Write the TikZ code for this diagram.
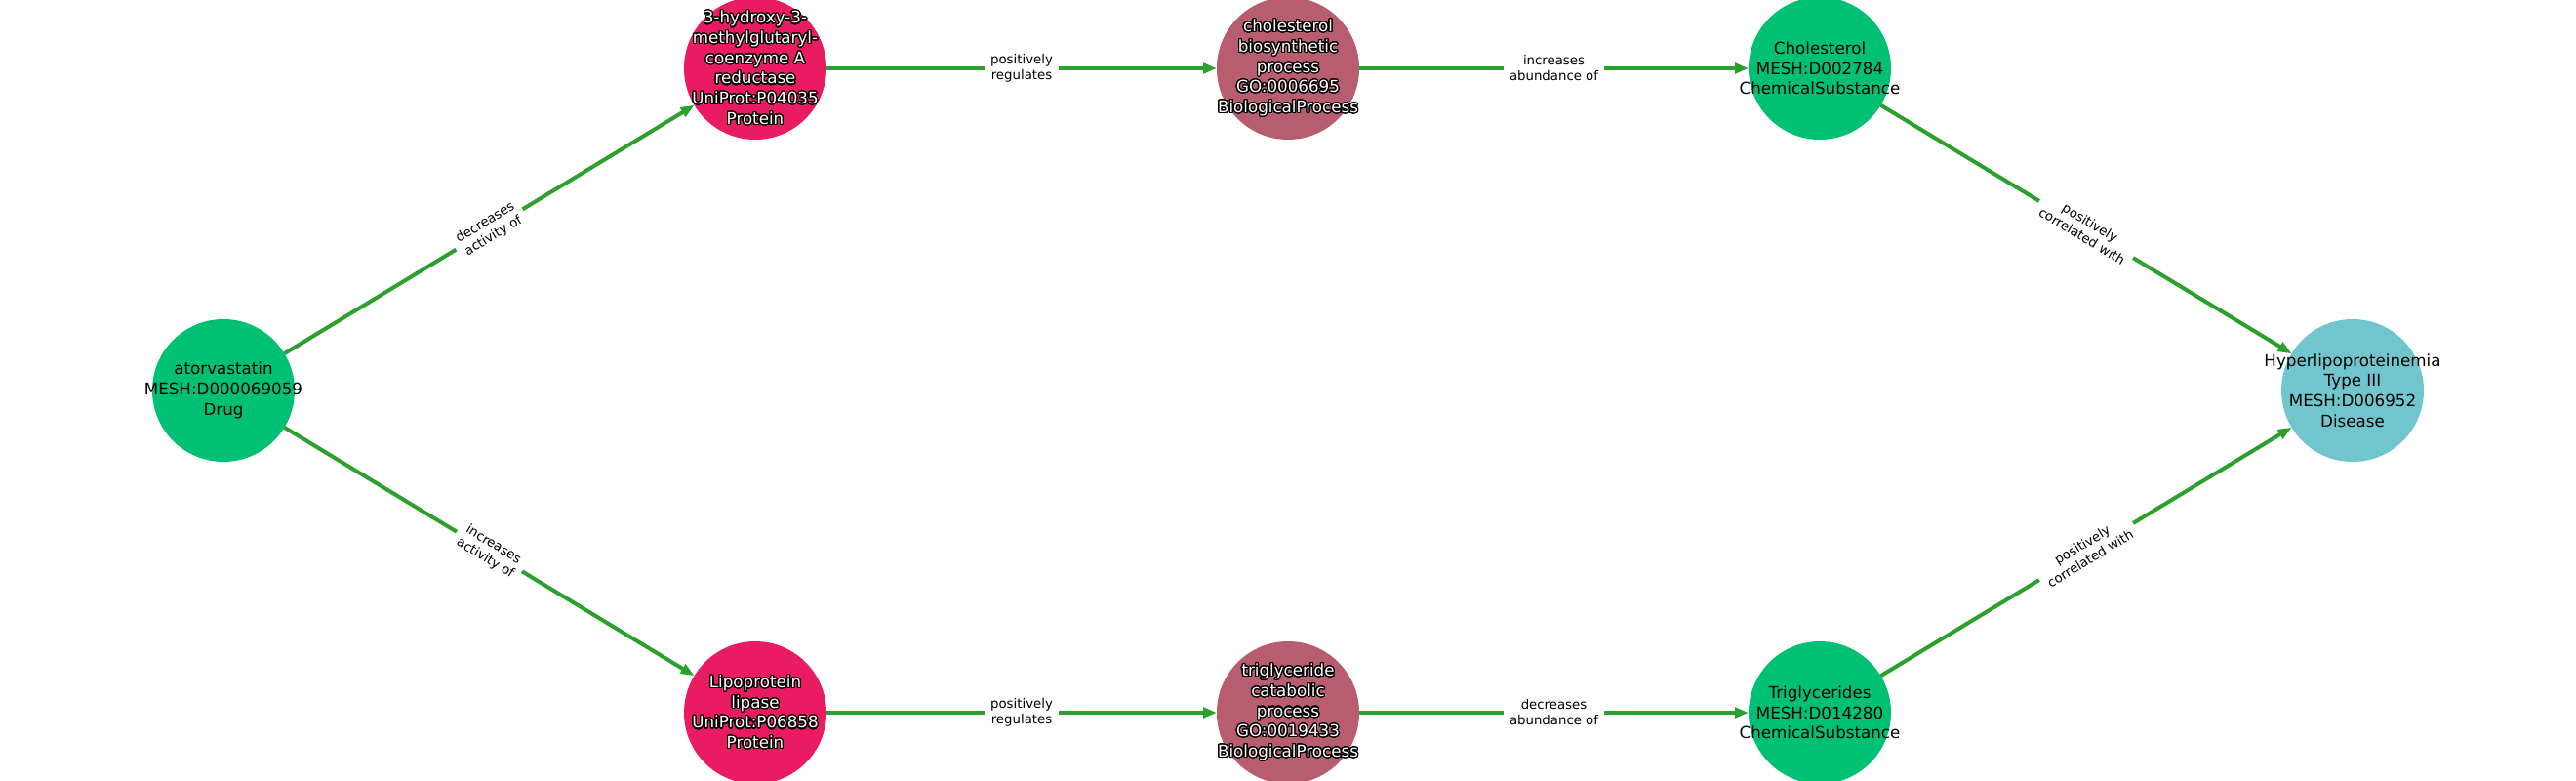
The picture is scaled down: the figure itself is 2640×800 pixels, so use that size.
\documentclass[tikz,border=0pt]{standalone}
\usepackage{fontspec}
\setmainfont{DejaVu Sans}
\usepackage{contour}
\contourlength{1.2bp}
\contournumber{32}
\usetikzlibrary{arrows.meta}
\definecolor{chem}{RGB}{0,193,115}
\definecolor{prot}{RGB}{233,27,99}
\definecolor{proc}{RGB}{184,92,112}
\definecolor{dis}{RGB}{112,198,204}
\definecolor{edgec}{RGB}{44,160,44}
\newcommand{\wl}[1]{\contour{black}{#1}}
\begin{document}
\begin{tikzpicture}[x=1bp,y=-1bp,
  dot/.style={circle, minimum size=146bp, inner sep=0pt, outer sep=0pt, draw=none},
  txt/.style={align=center, inner sep=0pt, font=\fontsize{16.7bp}{20.7bp}\selectfont},
  wtxt/.style={txt, text=white},
  edge/.style={draw=edgec, line width=4bp, -{Triangle[length=14bp,width=10.5bp]}},
  elab/.style={fill=white, align=center, inner xsep=6bp, inner ysep=3bp, text=black,
    font=\fontsize{13.3bp}{16bp}\selectfont}
]
\useasboundingbox (0,0) rectangle (2640,800);
\fill[white] (0,0) rectangle (2640,800);

\node[dot, fill=chem] (ator) at (229,400) {};
\node[dot, fill=prot] (hmg) at (774,70) {};
\node[dot, fill=proc] (cbp) at (1320,70) {};
\node[dot, fill=chem] (chol) at (1865,70) {};
\node[dot, fill=dis] (hyp) at (2411,400) {};
\node[dot, fill=prot] (lpl) at (774,730) {};
\node[dot, fill=proc] (tcp) at (1320,730) {};
\node[dot, fill=chem] (trig) at (1865,730) {};

\node[txt] (atort) at (ator) {atorvastatin\\MESH:D000069059\\Drug};
\node[wtxt] (hmgt) at (hmg) {\wl{3-hydroxy-3-}\\\wl{methylglutaryl-}\\\wl{coenzyme A}\\\wl{reductase}\\\wl{UniProt:P04035}\\\wl{Protein}};
\node[wtxt] (cbpt) at (cbp) {\wl{cholesterol}\\\wl{biosynthetic}\\\wl{process}\\\wl{GO:0006695}\\\wl{BiologicalProcess}};
\node[txt] (cholt) at (chol) {Cholesterol\\MESH:D002784\\ChemicalSubstance};
\node[txt] (hypt) at (hyp) {Hyperlipoproteinemia\\Type III\\MESH:D006952\\Disease};
\node[wtxt] (lplt) at (lpl) {\wl{Lipoprotein}\\\wl{lipase}\\\wl{UniProt:P06858}\\\wl{Protein}};
\node[wtxt] (tcpt) at (tcp) {\wl{triglyceride}\\\wl{catabolic}\\\wl{process}\\\wl{GO:0019433}\\\wl{BiologicalProcess}};
\node[txt] (trigt) at (trig) {Triglycerides\\MESH:D014280\\ChemicalSubstance};

\draw[edge] (ator) -- node[elab, sloped] {decreases\\activity of} (hmg);
\draw[edge] (ator) -- node[elab, sloped] {increases\\activity of} (lpl);
\draw[edge] (hmg) -- node[elab] {positively\\regulates} (cbp);
\draw[edge] (cbp) -- node[elab] {increases\\abundance of} (chol);
\draw[edge] (chol) -- node[elab, sloped] {positively\\correlated with} (hyp);
\draw[edge] (lpl) -- node[elab] {positively\\regulates} (tcp);
\draw[edge] (tcp) -- node[elab] {decreases\\abundance of} (trig);
\draw[edge] (trig) -- node[elab, sloped] {positively\\correlated with} (hyp);
\end{tikzpicture}
\end{document}
